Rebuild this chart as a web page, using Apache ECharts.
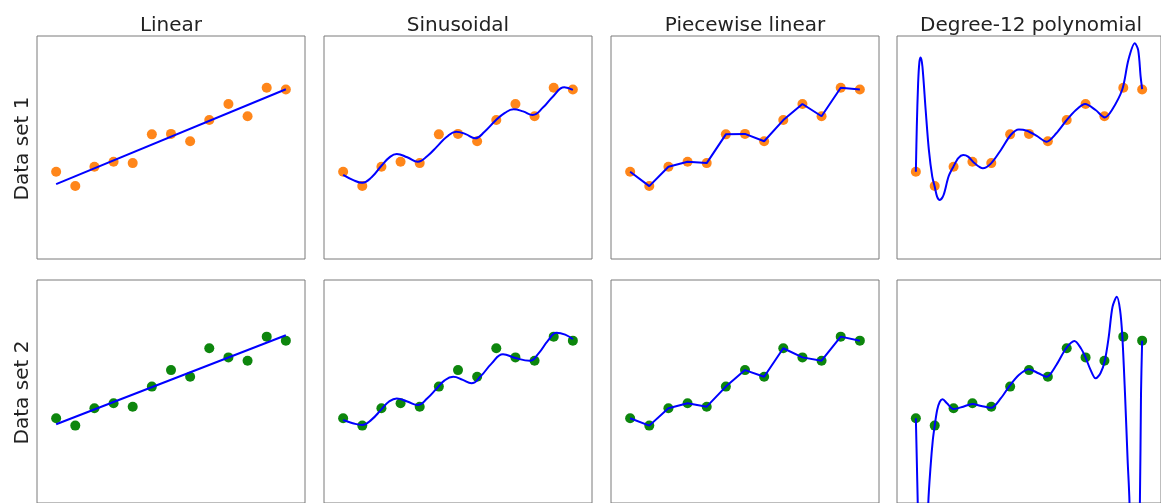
<!DOCTYPE html>
<html>
<head>
<meta charset="utf-8">
<script src="https://cdn.jsdelivr.net/npm/echarts@6/dist/echarts.min.js"></script>
<style>
html,body{margin:0;padding:0;background:#fff;}
#c{width:1161px;height:503px;}
</style>
</head>
<body>
<div id="c"></div>
<script>
// ---- data ----
const titles = ['Linear', 'Sinusoidal', 'Piecewise linear', 'Degree-12 polynomial'];
const rowLabels = ['Data set 1', 'Data set 2'];
const xs = [0, 1, 2, 3, 4, 5, 6, 7, 8, 9, 10, 11, 12];
const set1 = [3.91, 3.27, 4.14, 4.36, 4.30, 5.59, 5.61, 5.28, 6.23, 6.95, 6.40, 7.68, 7.60];
const set2 = [3.80, 3.47, 4.25, 4.47, 4.32, 5.22, 5.96, 5.66, 6.94, 6.53, 6.38, 7.46, 7.28];

const linear1 = [[0, 3.36], [12, 7.61]];
const linear2 = [[0, 3.53], [12, 7.52]];

const sine1 = [[0, 3.77], [0.5, 3.55], [1.0, 3.42], [1.5, 3.68], [2.0, 4.18], [2.45, 4.58], [2.8, 4.71],
  [3.35, 4.56], [3.9, 4.36], [4.4, 4.62], [4.9, 5.04], [5.4, 5.47], [5.9, 5.71], [6.4, 5.6], [6.9, 5.41],
  [7.4, 5.72], [7.95, 6.2], [8.45, 6.55], [8.9, 6.71], [9.4, 6.62], [9.9, 6.46], [10.45, 6.8],
  [10.95, 7.28], [11.55, 7.70], [12, 7.58]];
const sine2 = [[0, 3.72], [0.5, 3.58], [1.0, 3.50], [1.5, 3.75], [2.0, 4.2], [2.4, 4.55], [2.8, 4.69],
  [3.35, 4.55], [3.9, 4.39], [4.4, 4.7], [4.85, 5.1], [5.3, 5.5], [5.75, 5.66], [6.25, 5.52], [6.7, 5.37],
  [7.2, 5.7], [7.75, 6.25], [8.35, 6.67], [9.0, 6.5], [9.75, 6.38], [10.2, 6.7], [10.7, 7.28],
  [11.15, 7.64], [11.6, 7.55], [12, 7.35]];

const poly1 = [[0, 3.91], [0.05, 5.93], [0.12, 7.88], [0.19, 8.85], [0.26, 9.04], [0.35, 8.62], [0.52, 6.68],
  [0.69, 4.89], [0.87, 3.69], [1.0, 3.24], [1.13, 2.79], [1.27, 2.65], [1.47, 2.87], [1.73, 3.69],
  [1.99, 4.14], [2.25, 4.52], [2.51, 4.66], [2.77, 4.59], [3.12, 4.29], [3.55, 4.07], [3.99, 4.29],
  [4.51, 4.89], [5.03, 5.56], [5.46, 5.81], [5.89, 5.75], [6.41, 5.52], [6.93, 5.26], [7.45, 5.64],
  [7.97, 6.20], [8.49, 6.68], [8.98, 6.95], [9.53, 6.68], [10.02, 6.35], [10.4, 6.68], [10.95, 7.61],
  [11.27, 8.92], [11.61, 9.67], [11.79, 9.37], [11.92, 8.18], [12, 7.62]];
const poly2 = [[0, 3.80], [0.05, 1.93], [0.10, 0], [0.25, -6], [0.45, -8], [0.6, -3], [0.66, 0],
  [0.78, 1.63], [0.9, 2.83], [1.0, 3.47], [1.13, 4.17], [1.27, 4.54], [1.42, 4.65], [1.65, 4.47],
  [1.99, 4.22], [2.51, 4.32], [3.0, 4.44], [3.47, 4.35], [3.99, 4.27], [4.51, 4.70], [4.97, 5.25],
  [5.46, 5.74], [5.98, 6.0], [6.5, 5.82], [6.93, 5.66], [7.45, 6.19], [7.97, 6.94], [8.41, 7.26],
  [8.75, 6.94], [8.98, 6.56], [9.27, 5.96], [9.53, 5.59], [9.79, 5.82], [10.02, 6.38], [10.23, 7.46],
  [10.43, 8.8], [10.66, 9.25], [10.83, 8.65], [10.95, 7.46], [11.09, 4.92], [11.23, 1.93], [11.33, 0],
  [11.5, -8], [11.7, -6], [11.88, 0], [11.94, 4.92], [12, 7.28]];

// ---- layout ----
const panelLeft = [37, 324, 611, 897];
const panelW = 268, panelH = 223;
const rowTop = [36, 280];

const pointColors = ['#ff7f0e', '#008000'];
const sets = [set1, set2];
const curves = [
  [linear1, sine1, null, poly1],
  [linear2, sine2, null, poly2]
];

const grids = [], xAxes = [], yAxes = [], series = [];
let idx = 0;
for (let r = 0; r < 2; r++) {
  for (let c = 0; c < 4; c++) {
    grids.push({
      left: panelLeft[c], top: rowTop[r], width: panelW, height: panelH,
      show: true, borderColor: '#7a7a7a', borderWidth: 1, backgroundColor: '#fff', containLabel: false
    });
    xAxes.push({ type: 'value', gridIndex: idx, min: -1, max: 13, show: false });
    yAxes.push({ type: 'value', gridIndex: idx, min: 0, max: 10, show: false });
    const pts = xs.map((x, i) => [x, sets[r][i]]);
    series.push({
      type: 'scatter', xAxisIndex: idx, yAxisIndex: idx, data: pts,
      symbolSize: 10, itemStyle: { color: pointColors[r], opacity: 0.95 }, z: 2, silent: true
    });
    let curve = curves[r][c];
    let smooth = false;
    if (c === 2) curve = pts;
    if (c === 1) smooth = 0.45;
    if (c === 3) smooth = 0.3;
    series.push({
      type: 'line', xAxisIndex: idx, yAxisIndex: idx, data: curve, smooth: smooth,
      showSymbol: false, symbol: 'none', clip: true,
      lineStyle: { color: '#0000ff', width: 2 }, z: 3, silent: true
    });
    idx++;
  }
}

const graphic = [];
titles.forEach((t, c) => {
  graphic.push({
    type: 'text', x: panelLeft[c] + panelW / 2, y: 25.5,
    style: { text: t, font: '20px "DejaVu Sans"', fill: '#222',
      textAlign: 'center', textVerticalAlign: 'middle', align: 'center', verticalAlign: 'middle' }
  });
});
rowLabels.forEach((t, r) => {
  graphic.push({
    type: 'text', x: 23, y: rowTop[r] + panelH / 2 + 1, rotation: Math.PI / 2,
    style: { text: t, font: '20px "DejaVu Sans"', fill: '#222',
      textAlign: 'center', textVerticalAlign: 'middle', align: 'center', verticalAlign: 'middle' }
  });
});

const chart = echarts.init(document.getElementById('c'), null, { renderer: 'canvas' });
chart.setOption({
  animation: false,
  backgroundColor: '#fff',
  grid: grids, xAxis: xAxes, yAxis: yAxes, series: series, graphic: graphic
});
</script>
</body>
</html>
